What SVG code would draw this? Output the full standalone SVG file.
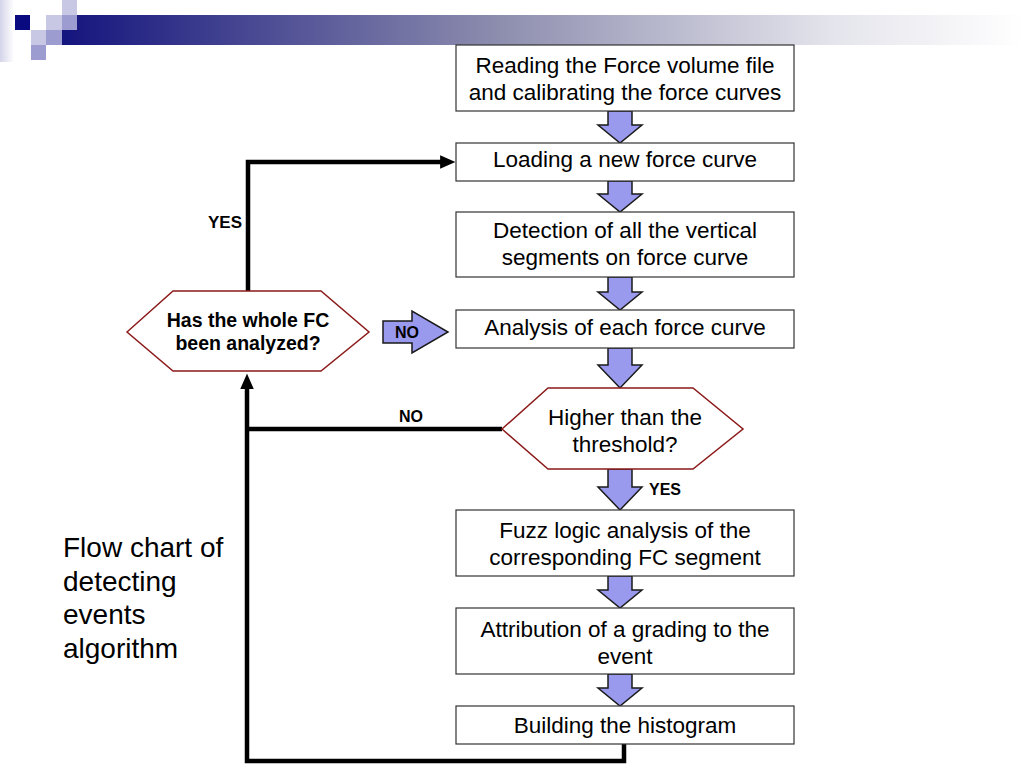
<svg xmlns="http://www.w3.org/2000/svg" width="1024" height="768" viewBox="0 0 1024 768">
<defs>
<linearGradient id="band" x1="0" y1="0" x2="1" y2="0">
<stop offset="0" stop-color="#14147e"/>
<stop offset="0.45" stop-color="#8c8cae"/>
<stop offset="0.8" stop-color="#e4e4ec"/>
<stop offset="1" stop-color="#ffffff"/>
</linearGradient>
<linearGradient id="side" x1="0" y1="0" x2="1" y2="0">
<stop offset="0" stop-color="#d4d4ea"/>
<stop offset="1" stop-color="#ffffff"/>
</linearGradient>
<marker id="ah" markerWidth="3.6" markerHeight="3" refX="0.2" refY="1.5" orient="auto" markerUnits="strokeWidth">
<path d="M0,0 L3.4,1.5 L0,3 z" fill="#000"/>
</marker>
<style>
.box{fill:#fff;stroke:#333;stroke-width:1.2}
.hex{fill:#fff;stroke:#8b1a1a;stroke-width:1.5}
.blk{fill:#9999ee;stroke:#1a1a1a;stroke-width:1.5;stroke-linejoin:miter}
.t{font-family:"Liberation Sans",Arial,sans-serif;font-size:22.5px;fill:#000;text-anchor:middle}
.b{font-family:"Liberation Sans",Arial,sans-serif;font-weight:bold;fill:#000}
.ln{fill:none;stroke:#000;stroke-width:4.5;stroke-linejoin:miter}
</style>
</defs>
<g id="header">
<rect x="0" y="0" width="14" height="62" fill="url(#side)"/>
<rect x="62" y="15" width="962" height="30" fill="url(#band)"/>
<rect x="62" y="0" width="15" height="15" fill="#c8c8e4"/>
<rect x="15" y="15" width="15" height="15" fill="#0a0a80"/>
<rect x="46" y="15" width="16" height="15" fill="#c8c8e4"/>
<rect x="62" y="15" width="15" height="15" fill="#9c9cd0"/>
<rect x="31" y="30" width="15" height="15" fill="#c8c8e4"/>
<rect x="46" y="30" width="16" height="15" fill="#9c9cd0"/>
<rect x="31" y="45" width="15" height="15" fill="#9c9cd0"/>
</g>
<g id="connectors">
<polyline class="ln" points="248,291 248,162 441,162" marker-end="url(#ah)"/>
<polyline class="ln" points="624,744 624,761 247,761 247,388" marker-end="url(#ah)"/>
<line class="ln" x1="502" y1="429" x2="247" y2="429"/>
<path class="blk" d="M608,111 H632 V125 H642 L620,143 L598,125 H608 Z"/>
<path class="blk" d="M608,181 H632 V194 H642 L620,212 L598,194 H608 Z"/>
<path class="blk" d="M608,277 H632 V292 H642 L620,310 L598,292 H608 Z"/>
<path class="blk" d="M608,348 H632 V365 H642 L620,388 L598,365 H608 Z"/>
<path class="blk" d="M608,469 H632 V487 H642 L620,510 L598,487 H608 Z"/>
<path class="blk" d="M608,576 H632 V590 H642 L620,608 L598,590 H608 Z"/>
<path class="blk" d="M608,674 H632 V688 H642 L620,706 L598,688 H608 Z"/>
<path class="blk" d="M383,321 H412 V311 L448,332 L412,353 V343 H383 Z"/>
<text class="b" x="407" y="338" font-size="16" text-anchor="middle">NO</text>
<text class="b" x="411" y="422" font-size="16" text-anchor="middle">NO</text>
<text class="b" x="225" y="228" font-size="17" text-anchor="middle">YES</text>
<text class="b" x="665" y="495" font-size="16" text-anchor="middle">YES</text>
</g>
<g id="n1">
<rect class="box" x="456" y="45" width="338" height="66"/>
<text class="t" x="625" y="73">Reading the Force volume file</text>
<text class="t" x="625" y="100">and calibrating the force curves</text>
</g>
<g id="n2">
<rect class="box" x="456" y="143" width="338" height="38"/>
<text class="t" x="625" y="167">Loading a new force curve</text>
</g>
<g id="n3">
<rect class="box" x="456" y="212" width="338" height="65"/>
<text class="t" x="625" y="238">Detection of all the vertical</text>
<text class="t" x="625" y="265">segments on force curve</text>
</g>
<g id="n4">
<rect class="box" x="456" y="310" width="338" height="38"/>
<text class="t" x="625" y="335">Analysis of each force curve</text>
</g>
<g id="d1">
<polygon class="hex" points="127,332 173,291 321,291 369,332 321,371 173,371"/>
<text class="b" x="248" y="327" font-size="19.5" text-anchor="middle">Has the whole FC</text>
<text class="b" x="248" y="350" font-size="19.5" text-anchor="middle">been analyzed?</text>
</g>
<g id="d2">
<polygon class="hex" points="502,429 548,388 693,388 743,429 693,469 548,469"/>
<text class="t" x="625" y="425">Higher than the</text>
<text class="t" x="625" y="452">threshold?</text>
</g>
<g id="n5">
<rect class="box" x="456" y="510" width="338" height="66"/>
<text class="t" x="625" y="538">Fuzz logic analysis of the</text>
<text class="t" x="625" y="565">corresponding FC segment</text>
</g>
<g id="n6">
<rect class="box" x="456" y="608" width="338" height="66"/>
<text class="t" x="625" y="637">Attribution of a grading to the</text>
<text class="t" x="625" y="664">event</text>
</g>
<g id="n7">
<rect class="box" x="456" y="706" width="338" height="38"/>
<text class="t" x="625" y="733">Building the histogram</text>
</g>
<g id="caption" font-family="'Liberation Sans',Arial,sans-serif" font-size="28" fill="#000">
<text x="63" y="557">Flow chart of</text>
<text x="63" y="591">detecting</text>
<text x="63" y="624">events</text>
<text x="63" y="658">algorithm</text>
</g>
</svg>
